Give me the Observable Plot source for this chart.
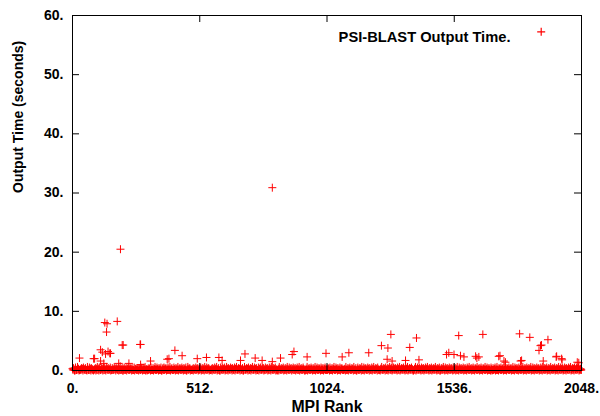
<!DOCTYPE html>
<html><head><meta charset="utf-8">
<script src="https://cdn.jsdelivr.net/npm/d3@7"></script>
<script src="https://cdn.jsdelivr.net/npm/@observablehq/plot@0.6"></script>
<style>html,body{margin:0;padding:0;background:#fff}svg{display:block}</style>
</head><body><div id="chart"></div>
<script>
const seriesName = "PSI-BLAST Output Time";
const xLabel = "MPI Rank";
const yLabel = "Output Time (seconds)";
const xTicks = [0, 512, 1024, 1536, 2048];
const yTicks = [0, 10, 20, 30, 40, 50, 60];

// Visible outliers above the dense band (rank, seconds)
const outlierRank = [28, 85, 89, 113, 113, 120, 126, 130, 133, 137, 139, 143, 150, 153, 180, 186, 193, 200, 204, 227, 272, 274, 274, 314, 381, 388, 412, 441, 502, 539, 589, 602, 676, 694, 735, 763, 804, 804, 837, 884, 891, 944, 1020, 1085, 1112, 1192, 1243, 1266, 1269, 1281, 1286, 1340, 1357, 1384, 1394, 1505, 1514, 1535, 1554, 1561, 1575, 1622, 1627, 1635, 1651, 1715, 1720, 1736, 1742, 1799, 1803, 1807, 1840, 1877, 1883, 1887, 1894, 1913, 1946, 1948, 1968, 1970, 2031, 2037];
const outlierTime = [2.1, 2.0, 2.0, 3.5, 1.6, 3.1, 1.2, 8.1, 2.8, 6.5, 7.9, 3.2, 2.9, 2.9, 8.3, 1.2, 20.5, 4.3, 4.3, 1.2, 4.4, 4.4, 1.0, 1.6, 1.9, 2.0, 3.4, 2.5, 2.0, 2.2, 2.2, 1.7, 1.7, 2.8, 2.1, 1.7, 30.9, 1.5, 2.1, 2.7, 3.2, 2.3, 2.9, 2.3, 3.0, 3.0, 4.2, 1.9, 3.8, 6.1, 1.6, 1.7, 3.9, 5.5, 1.8, 2.7, 3.0, 2.7, 5.9, 2.5, 2.3, 2.4, 2.1, 2.3, 6.1, 2.4, 2.5, 1.6, 1.4, 6.2, 1.6, 1.7, 5.6, 3.4, 4.2, 4.3, 1.6, 5.2, 2.3, 2.4, 2.0, 1.8, 1.4, 1.3];

// Dense band near zero: estimated tenths of a second, one digit per block of 4 ranks
const bandTenths =
  "3405163124352416153420243635143542634251426342537140524362434153" +
  "2434152536203425142635243504534253624152436243524350634213425342" +
  "3524362534213425362405243526342534253624352406243524362534153524" +
  "4253425362435203624352436253425342536243520362435243625342534253" +
  "2435243625342534213624352436240524362534253425362435213624352436" +
  "3425342536243524362435203625342534253624352436243504362534253425" +
  "2436253425342536243524362435243625342504253624352436243524362534" +
  "3524362435243625342534253624352436243524362534253425362435243523";
// Second, lower layer of ranks interleaved with the first
const bandTenthsLow =
  "1201120112021102110211201102120110211201112021011202110211201102" +
  "1102120110211201102112011021120111021120110211201102120110211201" +
  "2011021120110211201102112011021201102112011021120110211201102112" +
  "0112011021120110211201102112021102110211201102112011021120110211" +
  "1201102112011021120110211201102112011021120110211201102112011021" +
  "1021120110211201102112011021120110211201102112011021120110211201" +
  "2011021120110211201102112011021120110211201102112011021120110211" +
  "0211201102112011021120110211201102112011021120110211201102112011";

const stepA = 2048 / bandTenths.length;
const stepB = 2048 / bandTenthsLow.length;
const data = [
  ...Array.from(bandTenthsLow, (c, i) => ({rank: i * stepB + stepB / 2, time: +c / 10})),
  ...Array.from(bandTenths, (c, i) => ({rank: i * stepA, time: +c / 10})),
  {rank: 2047, time: 0.1},
  ...outlierRank.map((r, i) => ({rank: r, time: outlierTime[i]}))
];

const cross = {
  draw(ctx, size) {
    const r = Math.sqrt(size / Math.PI);
    ctx.moveTo(-r, 0); ctx.lineTo(r, 0);
    ctx.moveTo(0, -r); ctx.lineTo(0, r);
  }
};

const W = 600, H = 416, mL = 72, mR = 19, mT = 15, mB = 46;
const fw = W - mL - mR, fh = H - mT - mB, tl = 7;
const fam = "'Liberation Sans', Arial, sans-serif";
const font = {fontFamily: fam, fontSize: 14, fontWeight: "bold"};

const chart = Plot.plot({
  width: W, height: H,
  marginLeft: mL, marginRight: mR, marginTop: mT, marginBottom: mB,
  style: {fontFamily: fam, fontSize: "14px", fontWeight: "bold", color: "black", background: "white"},
  x: {domain: [0, 2048]},
  y: {domain: [0, 60]},
  marks: [
    Plot.dot(data, {x: "rank", y: "time", symbol: cross, r: 4, stroke: "#ff0000", fill: "none", strokeWidth: 1}),
    Plot.axisX({ticks: xTicks, tickSize: 0, tickPadding: 13, tickFormat: d => `${d}.`, label: null, fontWeight: "bold"}),
    Plot.axisY({ticks: yTicks, tickSize: 0, tickPadding: 9, tickFormat: d => `${d}.`, label: null, fontWeight: "bold"}),
    Plot.ruleX(xTicks, {x: d => d, insetTop: fh - tl, stroke: "black"}),
    Plot.ruleX(xTicks, {x: d => d, insetBottom: fh - tl, stroke: "black"}),
    Plot.ruleY(yTicks, {y: d => d, insetRight: fw - tl, stroke: "black"}),
    Plot.ruleY(yTicks, {y: d => d, insetLeft: fw - tl, stroke: "black"}),
    Plot.frame({stroke: "black"}),
    Plot.text([yLabel], {frameAnchor: "left", dx: -54, rotate: -90, text: d => d, ...font}),
    Plot.text([xLabel], {frameAnchor: "bottom", dy: 41, text: d => d, ...font, fontSize: 15.8}),
    Plot.text([seriesName + "."], {frameAnchor: "top-right", dx: -71, dy: 16, textAnchor: "end", text: d => d, ...font, fontSize: 14.7}),
    Plot.dot([seriesName], {frameAnchor: "top-right", dx: -40.3, dy: 16.3, symbol: cross, r: 4, stroke: "#ff0000", fill: "none", strokeWidth: 1.2})
  ]
});
// make sure the legend sample keeps the series colour
const dotGroups = chart.querySelectorAll('g[aria-label="dot"]');
const legendGroup = dotGroups[dotGroups.length - 1];
legendGroup.setAttribute("stroke", "#ff0000");
legendGroup.style.stroke = "#ff0000";
legendGroup.querySelectorAll("path").forEach(p => { p.setAttribute("stroke", "#ff0000"); p.style.stroke = "#ff0000"; });
document.getElementById("chart").appendChild(chart);
</script>
</body></html>
